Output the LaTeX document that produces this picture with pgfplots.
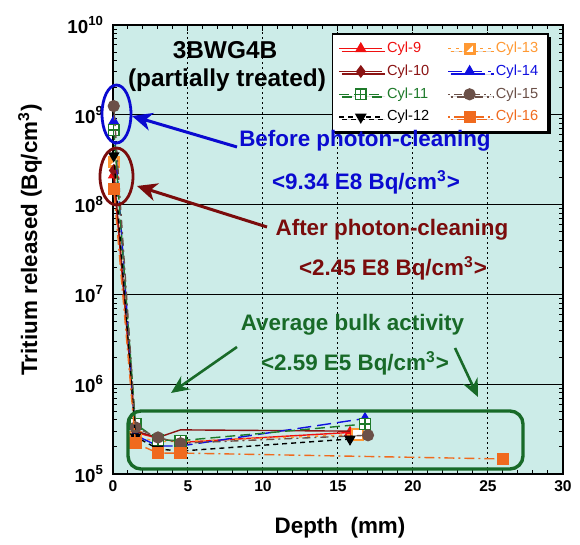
\documentclass[border=0pt]{standalone}
\usepackage{fontspec}
\setmainfont{Liberation Sans}
\usepackage{pgfplots}
\pgfplotsset{compat=1.18}
\usetikzlibrary{arrows.meta,shadows}

\definecolor{bgcyan}{HTML}{CCECE8}
\definecolor{c9}{HTML}{F01010}
\definecolor{c10}{HTML}{8B1414}
\definecolor{c11}{HTML}{1E7A2A}
\definecolor{c13}{HTML}{FF9933}
\definecolor{c14}{HTML}{1010E0}
\definecolor{c15}{HTML}{6B5048}
\definecolor{c16}{HTML}{F06A1E}
\definecolor{txtblue}{HTML}{0A0AD0}
\definecolor{txtred}{HTML}{7A0C0C}
\definecolor{txtgreen}{HTML}{186A28}

% square with a cross inside
\pgfdeclareplotmark{boxplus}{%
  \pgfpathrectangle{\pgfpoint{-\pgfplotmarksize}{-\pgfplotmarksize}}{\pgfpoint{2\pgfplotmarksize}{2\pgfplotmarksize}}%
  \pgfsetfillcolor{white}\pgfusepathqfillstroke
  \pgfpathmoveto{\pgfpoint{-\pgfplotmarksize}{0pt}}\pgfpathlineto{\pgfpoint{\pgfplotmarksize}{0pt}}%
  \pgfpathmoveto{\pgfpoint{0pt}{-\pgfplotmarksize}}\pgfpathlineto{\pgfpoint{0pt}{\pgfplotmarksize}}%
  \pgfusepathqstroke}
% half filled square
\pgfdeclareplotmark{halfsq}{%
  \pgfpathrectangle{\pgfpoint{-\pgfplotmarksize}{-\pgfplotmarksize}}{\pgfpoint{2\pgfplotmarksize}{2\pgfplotmarksize}}%
  \pgfusepathqfillstroke
  \pgfpathmoveto{\pgfpoint{-0.6\pgfplotmarksize}{-0.6\pgfplotmarksize}}%
  \pgfpathlineto{\pgfpoint{0.6\pgfplotmarksize}{-0.6\pgfplotmarksize}}%
  \pgfpathlineto{\pgfpoint{0.6\pgfplotmarksize}{0.6\pgfplotmarksize}}\pgfpathclose
  \pgfsetfillcolor{white}\pgfusepathqfill}

% legend sample with a single mark (for plots that use mark indices)
\pgfplotsset{onemark legend/.style={
  legend image code/.code={\draw[##1, mark indices={2}] plot coordinates {(0cm,0cm) (0.38cm,0cm) (0.76cm,0cm)};}}}

\begin{document}
\begin{tikzpicture}
\useasboundingbox (-56.5pt,-35.5pt) rectangle (233.5pt,237pt);
\begin{axis}[
  scale only axis, width=225pt, height=224.5pt,
  ymode=log, xmin=0, xmax=30, ymin=1e5, ymax=1e10,
  clip mode=individual,
  axis background/.style={fill=bgcyan},
  axis line style={line width=0.8pt},
  xtick={0,5,...,30}, xticklabels={0,5,10,15,20,25,30},
  minor x tick num=4,
  ytick={1e5,1e6,1e7,1e8,1e9,1e10},
  yticklabels={10\textsuperscript{5},10\textsuperscript{6},10\textsuperscript{7},
               10\textsuperscript{8},10\textsuperscript{9},10\textsuperscript{10}},
  tick align=inside,
  major tick length=3pt, minor tick length=2pt,
  tick style={black, line width=0.5pt},
  tick label style={font=\bfseries\fontsize{7.8}{9}\selectfont},
  yticklabel style={font=\bfseries\fontsize{9.4}{10}\selectfont, xshift=-1pt},
  xmajorgrids, ymajorgrids,
  x grid style={black, line width=0.5pt, dash pattern=on 1pt off 1.5pt},
  y grid style={black, line width=0.5pt},
  legend columns=2,
  legend cell align=left,
  legend image code/.code={\draw[mark repeat=2,mark phase=2,#1] plot coordinates {(0cm,0cm) (0.38cm,0cm) (0.76cm,0cm)};},
  legend style={at={(0.969,0.982)}, anchor=north east, draw=black, line width=0.9pt, fill=white,
    font=\fontsize{7.3}{8.8}\selectfont, inner xsep=3pt, inner ysep=2pt,
    drop shadow={shadow xshift=1.3pt, shadow yshift=-1.3pt, fill=black, opacity=1},
    /tikz/every even column/.append style={column sep=7pt}, row sep=0.6pt},
  every axis plot/.append style={line width=0.7pt, mark size=2.7pt},
]
\addplot[c9, mark=triangle*, mark options={solid, fill=c9}] coordinates {
  (0.05,2.14e8) (1.5,2.9e5) (3,2.5e5) (4.5,2.25e5) (15.8,2.9e5)};
\addlegendentry{\textcolor{c9}{Cyl-9}}
\addplot[c13, dash pattern=on 1.5pt off 2.5pt, mark=halfsq, mark options={solid, fill=c13}] coordinates {
  (0.05,3.0e8) (1.5,2.6e5) (3,2.3e5) (4.5,2.3e5) (16.3,2.75e5)};
\addlegendentry{\textcolor{c13}{Cyl-13}}
\addplot[c10, mark=diamond*, mark indices={1,2}, mark options={solid, fill=c10}, onemark legend] coordinates {
  (0.05,2.4e8) (1.5,3.0e5) (3,2.55e5) (4.5,3.1e5) (15.8,3.0e5)};
\addlegendentry{\textcolor{c10}{Cyl-10}}
\addplot[c14, dash pattern=on 7pt off 3pt, mark=triangle*, mark options={solid, fill=c14}] coordinates {
  (0.05,8.4e8) (1.5,2.7e5) (3,2.05e5) (4.5,2.05e5) (16.8,4.15e5)};
\addlegendentry{\textcolor{c14}{Cyl-14}}
\addplot[c11, dash pattern=on 5pt off 2.5pt, mark=boxplus, mark options={solid}] coordinates {
  (0.05,6.8e8) (1.5,3.6e5) (3,2.4e5) (4.5,2.35e5) (16.8,3.6e5)};
\addlegendentry{\textcolor{c11}{Cyl-11}}
\addplot[c15, dash pattern=on 1pt off 2pt on 4pt off 2pt, mark=*, mark options={solid, fill=c15}] coordinates {
  (0.05,1.25e9) (1.5,3.3e5) (3,2.55e5) (4.5,2.2e5) (17,2.7e5)};
\addlegendentry{\textcolor{c15}{Cyl-15}}
\addplot[black, dash pattern=on 2.5pt off 2pt, mark=triangle*, mark options={solid, fill=black, rotate=180}] coordinates {
  (0.05,3.5e8) (1.5,2.6e5) (3,1.9e5) (4.5,1.8e5) (15.8,2.45e5)};
\addlegendentry{Cyl-12}
\addplot[c16, dash pattern=on 1pt off 2pt on 5pt off 2pt, mark=square*, mark options={solid, fill=c16}] coordinates {
  (0.05,1.49e8) (1.5,2.2e5) (3,1.71e5) (4.5,1.71e5) (26,1.47e5)};
\addlegendentry{\textcolor{c16}{Cyl-16}}
\end{axis}

% annotations in pixel units of the reference (origin top left)
\begin{scope}[shift={(-56.5pt,237pt)}, x=0.5pt, y=-0.5pt]
  \node[rotate=90, font=\bfseries\fontsize{11.2}{13}\selectfont] at (30,240) {Tritium released (Bq/cm\textsuperscript{3})};
  \node[font=\bfseries\fontsize{11.2}{13}\selectfont] at (340,528) {Depth\ \ (mm)};
  \node[font=\bfseries\fontsize{12.2}{14}\selectfont] at (225,50) {3BWG4B};
  \node[font=\bfseries\fontsize{12.2}{14}\selectfont] at (227,80) {(partially treated)};

  \draw[txtblue, line width=1.4pt] (116.5,114) ellipse [x radius=7.25pt, y radius=14.5pt];
  \draw[txtred, line width=1.4pt] (116.5,176.5) ellipse [x radius=8.25pt, y radius=14.25pt];
  \draw[txtblue, line width=1.5pt, -{Stealth[length=10pt,width=9pt,inset=3pt]}] (237,147) -- (132,116);
  \draw[txtred, line width=1.5pt, -{Stealth[length=10pt,width=9pt,inset=3pt]}] (267,227) -- (137,186);
  \draw[txtgreen, line width=1.3pt, -{Stealth[length=9pt,width=8pt,inset=3pt]}] (237,347) -- (171,393);
  \draw[txtgreen, line width=1.3pt, -{Stealth[length=9pt,width=8pt,inset=3pt]}] (455,348) -- (478,397);
  \draw[txtgreen, line width=1.7pt, rounded corners=6.5pt] (128,411) rectangle (523,469);

  \begin{scope}[every node/.style={font=\bfseries\fontsize{11.2}{13}\selectfont}]
  \node[txtblue] at (365,141) {Before photon-cleaning};
  \node[txtblue] at (366,182) {<9.34 E8 Bq/cm\textsuperscript{3}>};
  \node[txtred] at (392,230) {After photon-cleaning};
  \node[txtred] at (393,268) {<2.45 E8 Bq/cm\textsuperscript{3}>};
  \node[txtgreen] at (352.5,325) {Average bulk activity};
  \node[txtgreen] at (355,363) {<2.59 E5 Bq/cm\textsuperscript{3}>};
  \end{scope}
\end{scope}
\end{tikzpicture}
\end{document}
